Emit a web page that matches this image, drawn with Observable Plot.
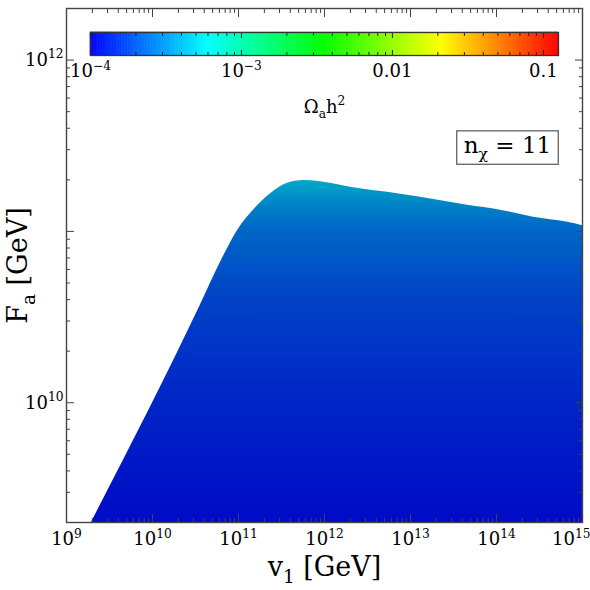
<!DOCTYPE html>
<html><head><meta charset="utf-8">
<script src="https://cdn.jsdelivr.net/npm/d3@7"></script>
<script src="https://cdn.jsdelivr.net/npm/@observablehq/plot@0.6"></script>
<style>
body{margin:0;background:#fff;}
#wrap{position:relative;width:590px;height:590px;}
#wrap svg{position:absolute;left:0;top:0;overflow:visible;}
</style></head><body><div id="wrap"></div>
<script>
// Upper edge of the scanned (v1, F_a) region
const boundaryV1 = [1.95e9, 3.61e10, 6.18e10, 9.72e10, 1.49e11, 2.36e11, 3.72e11, 5.70e11, 8.97e11, 2.17e12, 5.41e12, 1.31e13, 4.60e13, 1.11e14, 2.69e14, 6.70e14, 1e15];
const boundaryFa = [2.0e9, 3.72e10, 6.61e10, 1.01e11, 1.33e11, 1.66e11, 1.91e11, 1.98e11, 1.95e11, 1.80e11, 1.69e11, 1.58e11, 1.42e11, 1.33e11, 1.21e11, 1.13e11, 1.08e11];
// Typical relic density of the points at a given F_a (colour of the scatter)
const gradFa = [2e9, 1e10, 4e10, 1e11, 1.4e11, 2e11];
const gradOmega = [1.1e-4, 1.4e-4, 1.8e-4, 2.5e-4, 3.2e-4, 4.6e-4];
// Axes
const xDomain = [1e9, 1e15];
const yDomain = [2e9, 2e12];
const xMajor = [1e9, 1e10, 1e11, 1e12, 1e13, 1e14, 1e15];
const yMajor = [1e10, 1e11, 1e12];
const yLabeled = [1e10, 1e12];
// Colour bar
const omegaDomain = [1e-4, 0.126];
const cbTicks = [1e-4, 1e-3, 1e-2, 1e-1];
const cbLabels = ["10|-4", "10|-3", "0.01", "0.1"];
const jetColors = ["#0000ff", "#00ffff", "#00ff00", "#ffff00", "#ff0000"];
// Texts
const xLabel = "v1 [GeV]";
const yLabel = "Fa [GeV]";
const cbLabel = "Ωah2";
const boxLabel = "nχ = 11";

const font = "DejaVu Serif";
const pow10 = d => "10|" + Math.round(Math.log10(d));
function minors(lo, hi) {
  const out = [];
  for (let e = Math.floor(Math.log10(lo)); e <= Math.ceil(Math.log10(hi)); e++)
    for (let k = 2; k <= 9; k++) { const v = k * 10 ** e; if (v >= lo && v <= hi) out.push(v); }
  return out;
}
const xMinor = minors(...xDomain), yMinor = minors(...yDomain), cbMinor = minors(...omegaDomain);
const jet = d3.piecewise(d3.interpolateRgb, jetColors);
const omegaScale = Plot.scale({color: {type: "log", domain: omegaDomain, interpolate: jet}});

const boundary = boundaryV1.map((v, i) => ({v1: v, fa: boundaryFa[i]}));
const tickStroke = "#444";
const blank = () => "";
// inward ticks: draw outward ticks and shift them back inside the frame
const tickX = (vals, anchor, len, stroke) => Plot.axisX(vals, {anchor, tickSize: len, dy: anchor === "bottom" ? -len : len, tickFormat: blank, label: null, stroke});
const tickY = (vals, anchor, len, stroke) => Plot.axisY(vals, {anchor, tickSize: len, dx: anchor === "left" ? len : -len, tickFormat: blank, label: null, stroke});

const main = Plot.plot({
  width: 590, height: 590,
  marginTop: 8, marginRight: 8, marginBottom: 68, marginLeft: 66,
  style: {fontFamily: font, fontSize: "18px", color: "#000", background: "transparent"},
  x: {type: "log", domain: xDomain},
  y: {type: "log", domain: yDomain},
  marks: [
    Plot.areaY(boundary, {x: "v1", y1: yDomain[0], y2: "fa", fill: "url(#omegaGrad)", curve: "monotone-x", clip: true}),
    Plot.frame({stroke: tickStroke, strokeWidth: 1.4}),
    tickX(xMajor, "bottom", 8, tickStroke), tickX(xMinor, "bottom", 4, tickStroke),
    tickX(xMajor, "top", 8, tickStroke), tickX(xMinor, "top", 4, tickStroke),
    tickY(yMajor, "left", 8, tickStroke), tickY(yMinor, "left", 4, tickStroke),
    tickY(yMajor, "right", 8, tickStroke), tickY(yMinor, "right", 4, tickStroke),
    Plot.axisX(xMajor, {anchor: "bottom", tickSize: 0, tickPadding: 10, tickFormat: pow10, label: null, fontSize: 18}),
    Plot.axisY(yLabeled, {anchor: "left", tickSize: 0, tickPadding: 3, tickFormat: pow10, label: null, fontSize: 18}),
    Plot.text([xLabel], {frameAnchor: "bottom", textAnchor: "middle", dy: 53, fontSize: 27}),
    Plot.text([yLabel], {frameAnchor: "left", textAnchor: "middle", dx: -48, rotate: -90, fontSize: 27}),
    Plot.text([boxLabel], {frameAnchor: "top-right", textAnchor: "middle", dx: -75, dy: 128, fontSize: 23})
  ]
});

const cbEdges = d3.range(301).map(i => 10 ** (Math.log10(omegaDomain[0]) + (Math.log10(omegaDomain[1]) - Math.log10(omegaDomain[0])) * i / 300));
const cbSteps = d3.pairs(cbEdges);
const cb = Plot.plot({
  width: 590, height: 120,
  marginLeft: 90, marginRight: 32, marginTop: 32, marginBottom: 65,
  style: {fontFamily: font, fontSize: "18px", color: "#000", background: "transparent"},
  x: {type: "log", domain: omegaDomain},
  y: {domain: [0, 1], axis: null},
  color: {type: "log", domain: omegaDomain, interpolate: jet},
  marks: [
    Plot.rect(cbSteps, {x1: d => d[0], x2: d => d[1], y1: 0, y2: 1, fill: d => Math.sqrt(d[0] * d[1]), stroke: d => Math.sqrt(d[0] * d[1]), strokeWidth: 0.6}),
    Plot.frame({stroke: "#333", strokeWidth: 1.3}),
    tickX(cbTicks, "top", 5, "#222"), tickX(cbMinor, "top", 3, "#222"),
    tickX(cbTicks, "bottom", 5, "#222"), tickX(cbMinor, "bottom", 3, "#222"),
    Plot.axisX(cbTicks, {anchor: "bottom", tickSize: 0, tickPadding: 9, tickFormat: d => cbLabels[cbTicks.indexOf(d)], label: null, fontSize: 18}),
    Plot.text([cbLabel], {frameAnchor: "bottom", textAnchor: "middle", dy: 57, fontSize: 18})
  ]
});

const wrap = document.getElementById("wrap");
wrap.appendChild(main);
wrap.appendChild(cb);

// vertical colour gradient for the scatter region, through the colour scale
const ys = main.scale("y");
const gy1 = ys.apply(gradFa[0]), gy2 = ys.apply(gradFa[gradFa.length - 1]);
const grad = d3.select(main).insert("defs", ":first-child").append("linearGradient")
  .attr("id", "omegaGrad").attr("gradientUnits", "userSpaceOnUse")
  .attr("x1", 0).attr("x2", 0).attr("y1", gy1).attr("y2", gy2);
gradFa.forEach((f, i) => {
  const c = d3.interpolateRgb(omegaScale.apply(gradOmega[i]), "#000")(0.22);
  grad.append("stop").attr("offset", (ys.apply(f) - gy1) / (gy2 - gy1)).attr("stop-color", c);
});

// sub/superscripts
function setParts(el, parts, fs) {
  const t = d3.select(el); t.text(null);
  let shift = 0;
  parts.forEach(p => {
    const target = p.sub ? 0.28 * fs : p.sup ? -0.42 * fs : 0;
    const ts = t.append("tspan").text(p.t).attr("dy", (target - shift) + "px");
    if (p.sub || p.sup) ts.attr("font-size", (0.68 * fs) + "px");
    shift = target;
  });
}
function rich(svg, original, parts, fs) {
  d3.select(svg).selectAll("text").filter(function () { return this.textContent === original; })
    .each(function () { setParts(this, parts, fs); });
}
rich(main, xLabel, [{t: "v"}, {t: "1", sub: true}, {t: " [GeV]"}], 27);
rich(main, yLabel, [{t: "F"}, {t: "a", sub: true}, {t: " [GeV]"}], 27);
rich(main, boxLabel, [{t: "n"}, {t: "χ", sub: true}, {t: " = 11"}], 23);
rich(cb, cbLabel, [{t: "Ω"}, {t: "a", sub: true}, {t: "h"}, {t: "2", sup: true}], 18);
for (const svg of [main, cb]) {
  d3.select(svg).selectAll("text").filter(function () { return this.textContent.includes("|"); }).each(function () {
    const [base, exp] = this.textContent.split("|");
    setParts(this, [{t: base}, {t: exp.replace("-", "−"), sup: true}], 18);
  });
}
// the last x tick label sits against the right edge of the picture
d3.select(main).selectAll("text").filter(function () { return this.textContent === "1015"; })
  .attr("text-anchor", "end").attr("dx", 8);

// box around the n_chi label
d3.select(main).selectAll("text").filter(function () { return this.textContent === "nχ = 11"; }).each(function () {
  const b = this.getBBox();
  d3.select(this.parentNode).insert("rect", ":first-child")
    .attr("x", b.x - 7).attr("y", b.y - 1).attr("width", b.width + 14).attr("height", b.height + 2)
    .attr("fill", "#fff").attr("stroke", "#555").attr("stroke-width", 1.2)
    .attr("transform", this.getAttribute("transform"));
});
</script>
</body></html>
